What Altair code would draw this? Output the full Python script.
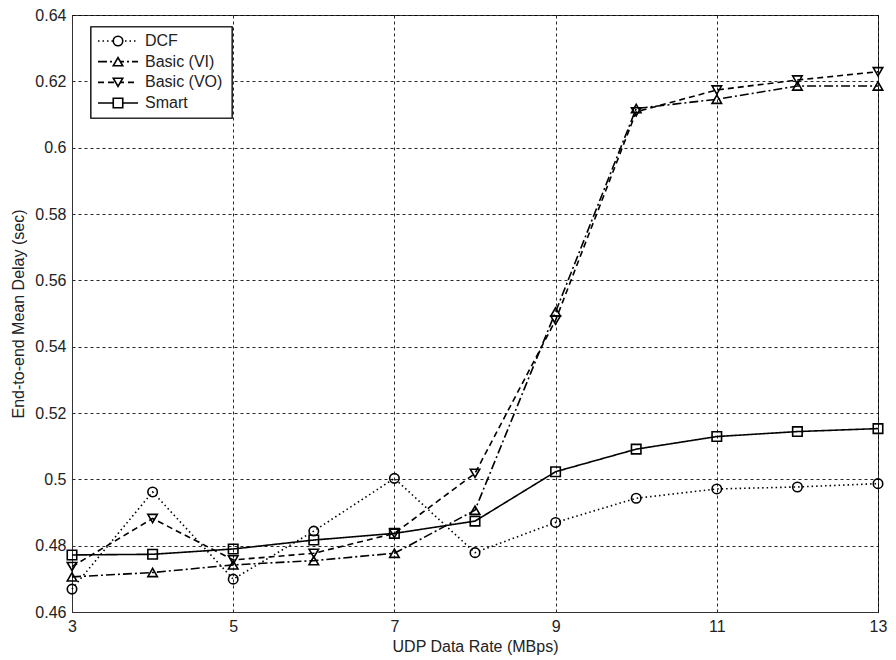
import altair as alt
import pandas as pd

x_vals = [3, 4, 5, 6, 7, 8, 9, 10, 11, 12, 13]
dcf = [0.4669, 0.4962, 0.4699, 0.4844, 0.5003, 0.4779, 0.4870, 0.4943, 0.4971, 0.4977, 0.4987]
basic_vi = [0.4706, 0.4719, 0.4742, 0.4755, 0.4777, 0.4907, 0.5505, 0.6118, 0.6146, 0.6186, 0.6186]
basic_vo = [0.4737, 0.4882, 0.4757, 0.4777, 0.4837, 0.5018, 0.5480, 0.6108, 0.6174, 0.6204, 0.6229]
smart = [0.4772, 0.4774, 0.4790, 0.4817, 0.4837, 0.4874, 0.5023, 0.5091, 0.5129, 0.5144, 0.5153]

series_names = ["DCF", "Basic (VI)", "Basic (VO)", "Smart"]
series_values = [dcf, basic_vi, basic_vo, smart]
dash_styles = [[1.5, 3], [9, 3, 2, 3], [6, 4], [1, 0]]
marker_shapes = ["circle", "triangle-up", "triangle-down", "square"]
x_ticks = [3, 5, 7, 9, 11, 13]
y_ticks = [0.46, 0.48, 0.50, 0.52, 0.54, 0.56, 0.58, 0.60, 0.62, 0.64]

rows = []
for name, vals in zip(series_names, series_values):
    for xv, yv in zip(x_vals, vals):
        rows.append({"series": name, "rate": xv, "delay": yv})
df = pd.DataFrame(rows)
legend_df = pd.DataFrame({"series": series_names})

FONT = "Liberation Sans"

dash_enc = alt.StrokeDash("series:N", scale=alt.Scale(domain=series_names, range=dash_styles), legend=None)
shape_enc = alt.Shape("series:N", scale=alt.Scale(domain=series_names, range=marker_shapes), legend=None)

xenc = alt.X("rate:Q", scale=alt.Scale(domain=[3, 13], nice=False, zero=False),
             axis=alt.Axis(values=x_ticks, title="UDP Data Rate (MBps)", format="d", labelFlush=False))
yenc = alt.Y("delay:Q", scale=alt.Scale(domain=[0.46, 0.64], nice=False, zero=False),
             axis=alt.Axis(values=y_ticks, title="End-to-end Mean Delay (sec)", format=".2~f", labelFlush=False))

lines = alt.Chart(df).mark_line(color="black", strokeWidth=1.6).encode(
    x=xenc, y=yenc, strokeDash=dash_enc, detail="series:N"
)
points = alt.Chart(df).mark_point(color="black", filled=False, size=90, strokeWidth=1.6, opacity=1).encode(
    x=xenc, y=yenc, shape=shape_enc
)
main = alt.layer(lines, points)

ly = alt.Y("series:N", scale=alt.Scale(type="point", domain=series_names, range=[26, 88], padding=0), axis=None)

box = alt.Chart(legend_df).mark_rect(fill="white", stroke="#222", strokeWidth=1.2).encode(
    x=alt.value(19), x2=alt.value(160), y=alt.value(12), y2=alt.value(103)
)
leg_rules = alt.Chart(legend_df).mark_rule(color="black", strokeWidth=1.6).encode(
    x=alt.value(26), x2=alt.value(66), y=ly, strokeDash=dash_enc
)
leg_points = alt.Chart(legend_df).mark_point(color="black", filled=False, size=90, strokeWidth=1.6, opacity=1, fill="white").encode(
    x=alt.value(46), y=ly, shape=shape_enc
)
leg_text = alt.Chart(legend_df).mark_text(align="left", baseline="middle", font=FONT, fontSize=16, color="#222").encode(
    x=alt.value(73), y=ly, text="series:N"
)
legend = alt.layer(box, leg_rules, leg_points, leg_text)

chart = alt.layer(main, legend).resolve_scale(y="independent").properties(
    width=806, height=597,
    autosize=alt.AutoSizeParams(type="none"),
    padding={"left": 64, "top": 7, "right": 10, "bottom": 44},
    background="white",
).configure_view(
    stroke="#333", strokeWidth=1
).configure_axis(
    labelFont=FONT, titleFont=FONT, labelFontSize=16, titleFontSize=16,
    labelColor="#222", titleColor="#222", titleFontWeight="normal",
    domainColor="#333", domainWidth=1,
    grid=True, gridColor="black", gridDash=[3, 3], gridWidth=1, gridOpacity=0.85,
    ticks=False, labelPadding=6,
).configure_axisX(
    titlePadding=4
).configure_axisY(
    titlePadding=8
)

chart.save("out.html", embed_options={"renderer": "svg", "actions": False})
